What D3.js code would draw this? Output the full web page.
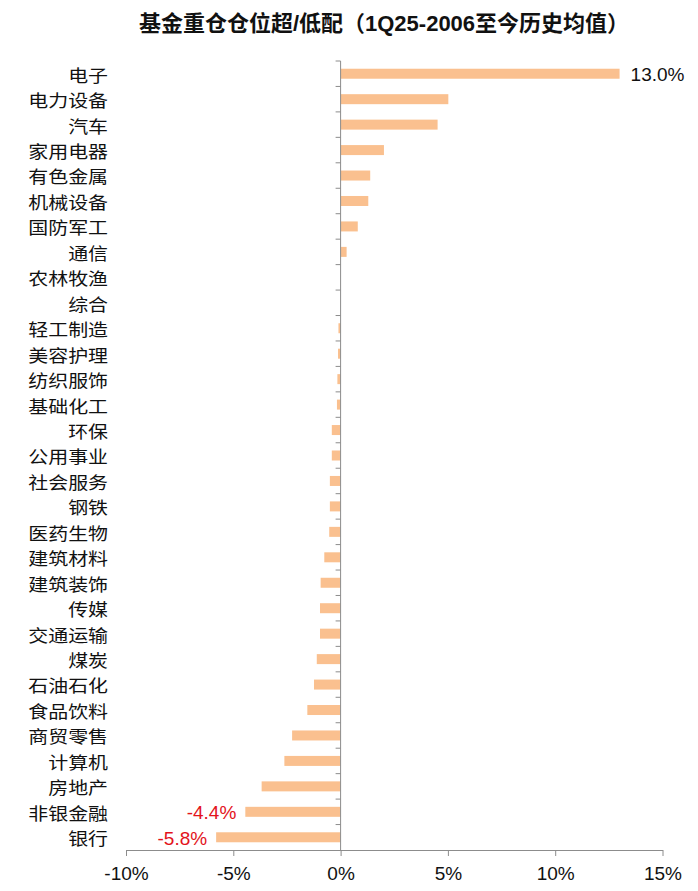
<!DOCTYPE html>
<html>
<head>
<meta charset="utf-8">
<script src="https://cdn.jsdelivr.net/npm/d3@7"></script>
<style>
  html, body { margin: 0; padding: 0; background: #fff; }
  svg { display: block; }
  .cat { font: 17.5px "Noto Sans CJK SC", sans-serif; fill: #111; }
  .tick text { font: 19px "Liberation Sans", Arial, sans-serif; fill: #111; }
  .val { font: 19px "Liberation Sans", Arial, sans-serif; }
  .title { font: bold 22px "Liberation Sans", Arial, "Noto Sans CJK SC", sans-serif; fill: #111; }
</style>
</head>
<body>
<svg id="chart"></svg>
<script>
// Fund overweight/underweight vs. historical mean, by industry (%)
const categories = [
  '电子','电力设备','汽车','家用电器','有色金属','机械设备','国防军工','通信',
  '农林牧渔','综合','轻工制造','美容护理','纺织服饰','基础化工','环保','公用事业',
  '社会服务','钢铁','医药生物','建筑材料','建筑装饰','传媒','交通运输','煤炭',
  '石油石化','食品饮料','商贸零售','计算机','房地产','非银金融','银行'
];
const values = [
  13.0, 5.02, 4.52, 2.02, 1.38, 1.29, 0.80, 0.28,
  0.0, 0.0, -0.10, -0.12, -0.15, -0.17, -0.41, -0.41,
  -0.50, -0.50, -0.53, -0.76, -0.93, -0.96, -0.96, -1.11,
  -1.24, -1.55, -2.26, -2.62, -3.68, -4.44, -5.8
];
const labelled = ['电子', '非银金融', '银行'];
const xTicks = [-10, -5, 0, 5, 10, 15];
const title = '基金重仓仓位超/低配（1Q25-2006至今历史均值）';

const rows = categories.map((c, i) => ({ cat: c, v: values[i] }));

const W = 698, H = 891;
const BAR = '#fac08f', AXIS = '#8c8c8c';

const svg = d3.select('#chart').attr('width', W).attr('height', H);

const x = d3.scaleLinear().domain([-10, 15]).range([126, 662.5]);
const y = d3.scaleBand().domain(categories).range([61, 850]);
const barH = 10;

// title
svg.append('text').attr('class', 'title')
  .attr('x', 384).attr('y', 31).attr('text-anchor', 'middle')
  .text(title);

// bars
svg.append('g').selectAll('rect').data(rows).join('rect')
  .attr('x', d => x(Math.min(0, d.v)))
  .attr('width', d => Math.abs(x(d.v) - x(0)))
  .attr('y', d => y(d.cat) + y.bandwidth() / 2 - barH / 2)
  .attr('height', barH)
  .attr('fill', BAR);

// x axis
const xAxis = d3.axisBottom(x).tickValues(xTicks).tickSize(6).tickSizeOuter(0)
  .tickFormat(d => d + '%');
const gx = svg.append('g').attr('transform', `translate(0,${y.range()[1]})`).call(xAxis);
gx.select('.domain').attr('stroke', AXIS);
gx.selectAll('.tick line').attr('stroke', AXIS);
gx.selectAll('.tick text').attr('dy', null).attr('y', 30);

// vertical category axis at zero, ticks on band boundaries
const x0 = x(0);
const gy = svg.append('g');
gy.append('line')
  .attr('x1', x0).attr('x2', x0)
  .attr('y1', y.range()[0]).attr('y2', y.range()[1])
  .attr('stroke', AXIS);
gy.selectAll('line.tk').data(categories).join('line').attr('class', 'tk')
  .attr('x1', x0 - 5).attr('x2', x0)
  .attr('y1', d => y(d)).attr('y2', d => y(d))
  .attr('stroke', AXIS);

// category labels (glyphs a bit wide in the source, so stretch x slightly)
svg.append('g').selectAll('text').data(rows).join('text')
  .attr('class', 'cat')
  .attr('transform', d => `translate(108,${y(d.cat) + y.bandwidth() / 2}) scale(1.14,1)`)
  .attr('dominant-baseline', 'central')
  .attr('text-anchor', 'end')
  .text(d => d.cat);

// value labels
svg.append('g').selectAll('text').data(rows.filter(d => labelled.includes(d.cat))).join('text')
  .attr('class', 'val')
  .attr('x', d => d.v >= 0 ? x(d.v) + 11 : x(d.v) - 9)
  .attr('y', d => y(d.cat) + y.bandwidth() / 2 + 7.5)
  .attr('text-anchor', d => d.v >= 0 ? 'start' : 'end')
  .attr('fill', d => d.v >= 0 ? '#111' : '#e3131b')
  .text(d => d.v.toFixed(1) + '%');
</script>
</body>
</html>
